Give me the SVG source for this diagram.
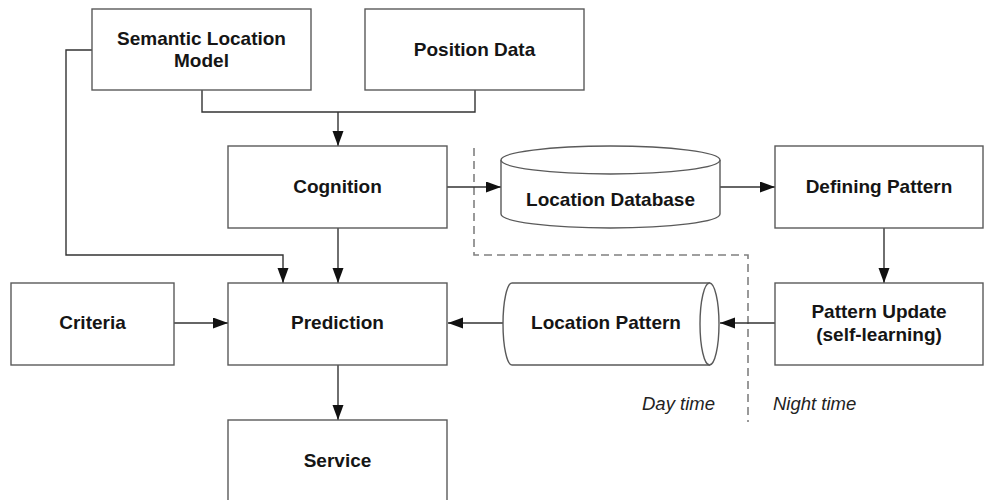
<svg xmlns="http://www.w3.org/2000/svg" width="985" height="500" viewBox="0 0 985 500">
  <style>
    .box { fill: #ffffff; stroke: #5a5a5a; stroke-width: 1.4; }
    .lbl { font-family: "Liberation Sans", Arial, sans-serif; font-weight: bold; font-size: 19px; fill: #151515; text-anchor: middle; }
    .note { font-family: "Liberation Sans", Arial, sans-serif; font-style: italic; font-size: 18.5px; fill: #222222; }
    .wire { fill: none; stroke: #333333; stroke-width: 1.4; }
    .arrow { marker-end: url(#head); }
    .split { fill: none; stroke: #808080; stroke-width: 1.6; stroke-dasharray: 8 5; }
  </style>
  <defs>
    <marker id="head" markerUnits="userSpaceOnUse" markerWidth="17" markerHeight="12" refX="15" refY="5.5" orient="auto">
      <path d="M0,0 L15,5.5 L0,11 Z" fill="#111111"/>
    </marker>
  </defs>

  <rect width="985" height="500" fill="#ffffff"/>

  <!-- day / night boundary -->
  <path class="split" d="M474,148 V255 H748 V422"/>

  <g id="connectors">
    <path class="wire" d="M202,90 V112 H475 V90"/>
    <path class="wire arrow" d="M338,112 V146"/>
    <path class="wire arrow" d="M92,50 H66 V255 H283 V283"/>
    <path class="wire arrow" d="M338,228 V283"/>
    <path class="wire arrow" d="M447,187 H501"/>
    <path class="wire arrow" d="M720,187 H775"/>
    <path class="wire arrow" d="M884,228 V283"/>
    <path class="wire arrow" d="M775,323 H720"/>
    <path class="wire arrow" d="M503,323 H448"/>
    <path class="wire arrow" d="M174,323 H228"/>
    <path class="wire arrow" d="M338,365 V420"/>
  </g>

  <g id="semantic-location-model">
    <rect class="box" x="92" y="9" width="219" height="81"/>
    <text class="lbl" x="201.5" y="45">Semantic Location</text>
    <text class="lbl" x="201.5" y="67">Model</text>
  </g>

  <g id="position-data">
    <rect class="box" x="365" y="9" width="219" height="81"/>
    <text class="lbl" x="474.5" y="56">Position Data</text>
  </g>

  <g id="cognition">
    <rect class="box" x="228" y="146" width="219" height="82"/>
    <text class="lbl" x="337.5" y="193">Cognition</text>
  </g>

  <g id="location-database">
    <path class="box" d="M501,160 V214 A109.5,14 0 0 0 720,214 V160"/>
    <ellipse class="box" cx="610.5" cy="160" rx="109.5" ry="14"/>
    <text class="lbl" x="610.5" y="206">Location Database</text>
  </g>

  <g id="defining-pattern">
    <rect class="box" x="775" y="146" width="208" height="82"/>
    <text class="lbl" x="879" y="193">Defining Pattern</text>
  </g>

  <g id="pattern-update">
    <rect class="box" x="775" y="283" width="208" height="82"/>
    <text class="lbl" x="879" y="318">Pattern Update</text>
    <text class="lbl" x="879" y="341">(self-learning)</text>
  </g>

  <g id="location-pattern">
    <path class="box" d="M512,283 H709.5 V365 H512 A9,41 0 0 1 512,283 Z"/>
    <ellipse class="box" cx="709.5" cy="324" rx="9.5" ry="41"/>
    <text class="lbl" x="606" y="329">Location Pattern</text>
  </g>

  <g id="criteria">
    <rect class="box" x="11" y="283" width="163" height="82"/>
    <text class="lbl" x="92.5" y="329">Criteria</text>
  </g>

  <g id="prediction">
    <rect class="box" x="228" y="283" width="219" height="82"/>
    <text class="lbl" x="337.5" y="329">Prediction</text>
  </g>

  <g id="service">
    <rect class="box" x="228" y="420" width="219" height="90"/>
    <text class="lbl" x="337.5" y="467">Service</text>
  </g>

  <text class="note" x="642" y="410">Day time</text>
  <text class="note" x="773" y="410">Night time</text>
</svg>
